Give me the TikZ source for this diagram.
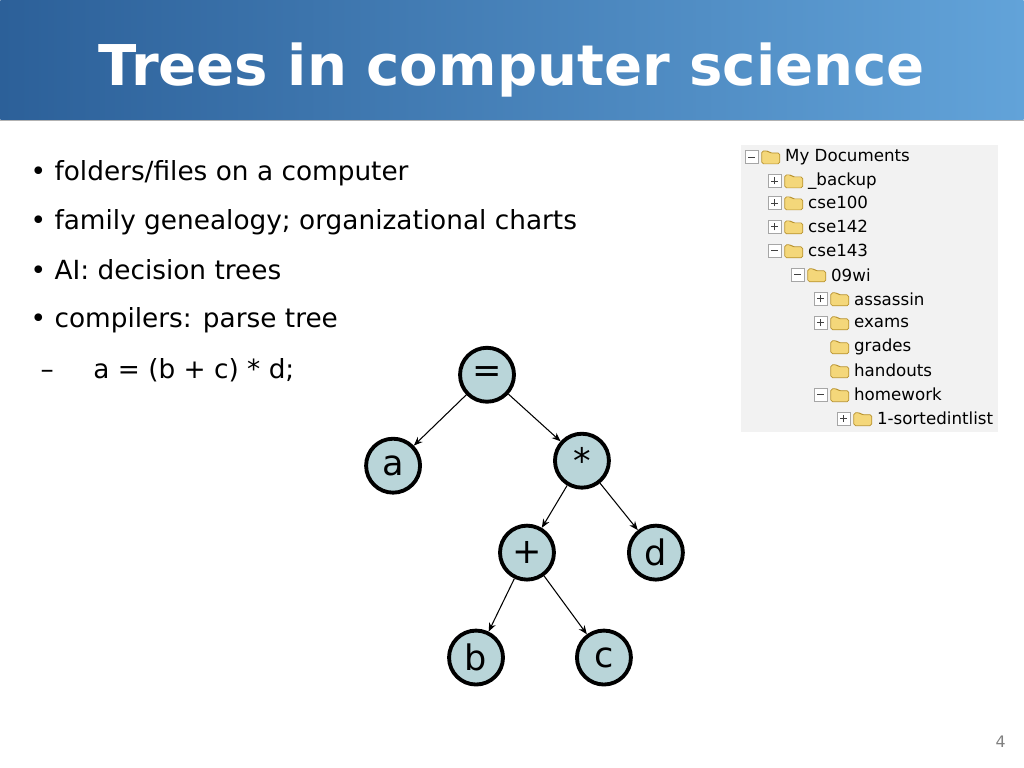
\documentclass[tikz,border=0pt]{standalone}
\usepackage{fontspec}
\setmainfont{DejaVu Sans}
\usetikzlibrary{arrows.meta}
\definecolor{barDark}{HTML}{2C6099}
\definecolor{barLight}{HTML}{62A3D9}
\definecolor{nodeFill}{HTML}{B9D5D9}
\definecolor{panelGray}{HTML}{F2F2F2}
\definecolor{folderFill}{HTML}{F4D77A}
\definecolor{folderEdge}{HTML}{B8922E}

\begin{document}
\begin{tikzpicture} [
    x=0.02cm, y=-0.02cm,
    expr/.style={circle, draw=black, line width=2.2pt, fill=nodeFill, minimum size=1.08cm, inner sep=0pt, font=\fontsize{20}{22}\selectfont},
    edge/.style={-{Stealth[length=5pt,width=4pt]}, semithick},
    bullet/.style={anchor=west, font=\fontsize{15}{18}\selectfont, inner sep=0pt},
    entry/.style={anchor=west, font=\fontsize{9.5}{10}\selectfont, inner sep=0pt},
    togglebox/.style={draw=gray!70, fill=white, minimum size=7pt, inner sep=0pt, line width=0.3pt}
]

% background and title bar
\fill[white] (0,0) rectangle (1024,768);
\shade[left color=barDark, right color=barLight] (0,0) rectangle (1024,120);
\draw[gray!60] (0,120) -- (1024,120);
\node[text=white, font=\bfseries\fontsize{32}{34}\selectfont] (title) at (512,70) {Trees in computer science};

% bullet list
\node[bullet] (b1) at (30,173) {\textbullet{} folders/files on a computer};
\node[bullet] (b2) at (30,222) {\textbullet{} family genealogy; organizational charts};
\node[bullet] (b3) at (30,270) {\textbullet{} AI: decision trees};
\node[bullet] (b4) at (30,320) {\textbullet{} compilers: parse tree};
\node[bullet] (b5) at (40,370) {–\hspace{1.5em}a = (b + c) * d;};

% parse tree
\node[expr] (eq) at (487,375) {=};
\node[expr] (va) at (393,466) {a};
\node[expr] (mul) at (582,461) {*};
\node[expr] (add) at (527,553) {+};
\node[expr] (vd) at (656,553) {d};
\node[expr] (vb) at (476,658) {b};
\node[expr] (vc) at (604,658) {c};

\draw[edge] (eq) -- (va);
\draw[edge] (eq) -- (mul);
\draw[edge] (mul) -- (add);
\draw[edge] (mul) -- (vd);
\draw[edge] (add) -- (vb);
\draw[edge] (add) -- (vc);

% folder view
\fill[panelGray] (741,145) rectangle (998,432);
\foreach \lvl/\ypos/\tog/\name in {
    0/157/m/My Documents, 1/181/p/\_backup, 1/203/p/cse100, 1/227/p/cse142,
    1/251/m/cse143, 2/275/m/09wi, 3/299/p/assassin, 3/323/p/exams,
    3/347/n/grades, 3/371/n/handouts, 3/395/m/homework, 4/419/p/1-sortedintlist} {
  \pgfmathsetmacro{\bx}{752+23*\lvl}
  \if\tog n\else
    \node[togglebox] (tg) at (\bx,\ypos) {};
    \draw[gray!50!black, line width=0.4pt] ([xshift=-2pt]tg.center) -- ([xshift=2pt]tg.center);
    \if\tog p
      \draw[gray!50!black, line width=0.4pt] ([yshift=-2pt]tg.center) -- ([yshift=2pt]tg.center);
    \fi
  \fi
  \draw[folderEdge, fill=folderFill, rounded corners=1pt, line width=0.4pt]
    (\bx+10,\ypos+7) -- (\bx+10,\ypos-6) -- (\bx+16,\ypos-6) -- (\bx+18,\ypos-4)
    -- (\bx+28,\ypos-4) -- (\bx+28,\ypos+7) -- cycle;
  \node[entry] (fl) at (\bx+33,\ypos) {\name};
}

% page number
\node[text=gray, font=\fontsize{9}{10}\selectfont] (pg) at (1001,742) {4};

\end{tikzpicture}
\end{document}
